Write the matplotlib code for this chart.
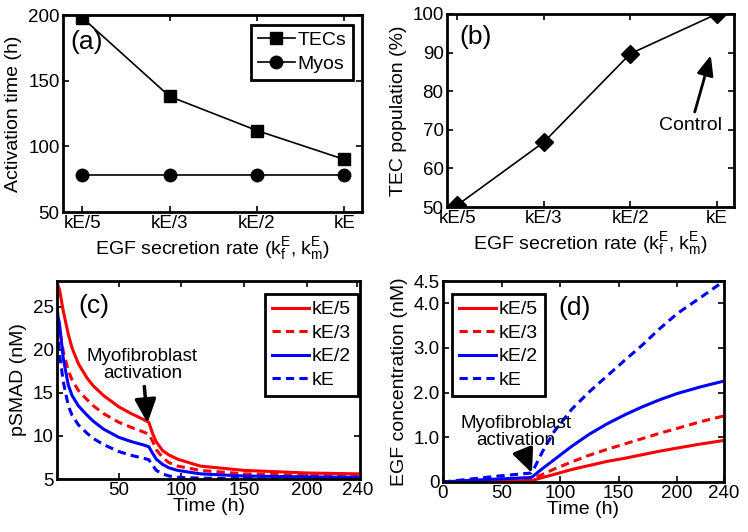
import matplotlib
matplotlib.use("Agg")
import matplotlib.pyplot as plt

plt.rcParams['font.family'] = ['Liberation Sans', 'DejaVu Sans']
plt.rcParams['mathtext.fontset'] = 'custom'
plt.rcParams['mathtext.rm'] = 'Liberation Sans'
plt.rcParams['mathtext.it'] = 'Liberation Sans'
plt.rcParams['font.size'] = 14
plt.rcParams['axes.labelsize'] = 14
plt.rcParams['xtick.labelsize'] = 13.5
plt.rcParams['ytick.labelsize'] = 13.5
plt.rcParams['axes.linewidth'] = 2
plt.rcParams['xtick.direction'] = 'in'
plt.rcParams['ytick.direction'] = 'in'
plt.rcParams['xtick.top'] = True
plt.rcParams['ytick.right'] = True
plt.rcParams['xtick.major.width'] = 1.2
plt.rcParams['ytick.major.width'] = 1.2
plt.rcParams['xtick.major.size'] = 4
plt.rcParams['ytick.major.size'] = 4
plt.rcParams['xtick.major.pad'] = 2.5
plt.rcParams['ytick.major.pad'] = 2.5

# panel (a) / (b): EGF secretion rate cases
rates = ['kE/5', 'kE/3', 'kE/2', 'kE']
tec_time = [198, 138, 112, 90]
myo_time = [78, 78, 78, 78]
tec_pop = [50.5, 66.8, 89.7, 100]

# panel (c): pSMAD over time
t_c = [1, 3, 6, 10, 13, 18, 25, 30, 38, 50, 60, 70, 74, 77, 80, 85, 90, 97, 115, 150, 200, 240]
psmad_k5 = [27.8, 27.0, 24.5, 21.8, 20.2, 18.4, 16.7, 15.8, 14.7, 13.4, 12.6, 11.9, 11.6, 10.3, 9.3, 8.3, 7.8, 7.3, 6.5, 6.0, 5.7, 5.6]
psmad_k3 = [25.0, 22.5, 19.8, 17.6, 16.5, 15.3, 14.2, 13.5, 12.6, 11.6, 11.0, 10.45, 10.2, 9.4, 8.4, 7.5, 6.9, 6.5, 6.0, 5.6, 5.45, 5.4]
psmad_k2 = [24.5, 23.0, 19.0, 15.9, 14.7, 13.5, 12.4, 11.7, 10.8, 9.85, 9.35, 8.95, 8.75, 8.0, 7.3, 6.7, 6.3, 6.0, 5.6, 5.35, 5.25, 5.2]
psmad_k = [22.5, 19.5, 16.3, 13.5, 12.4, 11.3, 10.3, 9.7, 9.0, 8.2, 7.75, 7.4, 7.25, 6.6, 6.0, 5.6, 5.35, 5.2, 5.1, 5.05, 5.0, 5.0]

# panel (d): EGF concentration over time
t_d = [0, 25, 50, 75, 77, 85, 95, 110, 125, 140, 155, 170, 185, 200, 220, 240]
egf_k5 = [0, 0.01, 0.02, 0.03, 0.04, 0.10, 0.17, 0.28, 0.37, 0.46, 0.53, 0.61, 0.69, 0.76, 0.85, 0.93]
egf_k3 = [0, 0.02, 0.04, 0.06, 0.08, 0.17, 0.29, 0.45, 0.60, 0.73, 0.85, 0.97, 1.09, 1.20, 1.35, 1.48]
egf_k2 = [0, 0.04, 0.07, 0.10, 0.13, 0.30, 0.50, 0.80, 1.07, 1.30, 1.50, 1.68, 1.84, 1.98, 2.13, 2.26]
egf_k = [0, 0.07, 0.14, 0.20, 0.26, 0.68, 1.13, 1.63, 2.02, 2.37, 2.72, 3.06, 3.43, 3.77, 4.13, 4.5]

xlab_rate = r'EGF secretion rate ($\mathregular{k_f^E}$, $\mathregular{k_m^E}$)'
dash = (0, (2.7, 1.7))
leg_kw = dict(fancybox=False, edgecolor='k', framealpha=1, handlelength=1.9,
              handletextpad=0.15, labelspacing=0.3, borderpad=0.35, borderaxespad=0,
              fontsize=14)
arrow_kw = dict(arrowstyle='-|>,head_length=0.6,head_width=0.27', lw=2.5, color='k',
                mutation_scale=24, shrinkA=1, shrinkB=0)

fig = plt.figure(figsize=(7.48, 5.32), dpi=100)
ax_a = fig.add_axes([0.0842, 0.6015, 0.3997, 0.3703])
ax_b = fig.add_axes([0.5976, 0.6109, 0.3837, 0.3628])
ax_c = fig.add_axes([0.0762, 0.0996, 0.4051, 0.3722])
ax_d = fig.add_axes([0.5922, 0.094, 0.3757, 0.3778])

# (a)
x = range(1, len(rates) + 1)
ax_a.plot(x, tec_time, 'k-s', lw=1.2, ms=8, label='TECs')
ax_a.plot(x, myo_time, 'k-o', lw=1.2, ms=9, label='Myos')
ax_a.set_xlim(0.78, 4.2)
ax_a.set_ylim(50, 200)
ax_a.set_yticks([50, 100, 150, 200])
ax_a.set_xticks(list(x))
ax_a.set_xticklabels(rates)
ax_a.set_ylabel('Activation time (h)', labelpad=4)
ax_a.set_xlabel(xlab_rate, labelpad=2)
ax_a.text(0.025, 0.863, '(a)', transform=ax_a.transAxes, fontsize=19, va='center')
leg = ax_a.legend(loc='upper right', bbox_to_anchor=(0.97, 0.95), **leg_kw)
leg.get_frame().set_linewidth(2)

# (b)
ax_b.plot(x, tec_pop, 'k-D', lw=1.2, ms=9)
ax_b.set_xlim(0.88, 4.2)
ax_b.set_ylim(50, 100)
ax_b.set_yticks([50, 60, 70, 80, 90, 100])
ax_b.set_xticks(list(x))
ax_b.set_xticklabels(rates)
ax_b.set_ylabel('TEC population (%)', labelpad=4)
ax_b.set_xlabel(xlab_rate, labelpad=2)
ax_b.text(0.042, 0.88, '(b)', transform=ax_b.transAxes, fontsize=19, va='center')
ax_b.annotate('Control', xy=(3.94, 90), xytext=(3.7, 71), ha='center', va='center',
              fontsize=14,
              arrowprops=dict(arrowstyle='-|>,head_length=0.6,head_width=0.25', lw=2,
                              color='k', mutation_scale=20))

# (c)
ax_c.plot(t_c, psmad_k5, color='red', lw=2.2, label='kE/5')
ax_c.plot(t_c, psmad_k3, color='red', lw=2.2, ls=dash, label='kE/3')
ax_c.plot(t_c, psmad_k2, color='blue', lw=2.2, label='kE/2')
ax_c.plot(t_c, psmad_k, color='blue', lw=2.2, ls=dash, label='kE')
ax_c.set_xlim(1, 242)
ax_c.set_ylim(5, 28)
ax_c.set_xticks([50, 100, 150, 200, 240])
ax_c.set_yticks([5, 10, 15, 20, 25])
ax_c.set_xlabel('Time (h)', labelpad=-1)
ax_c.set_ylabel('pSMAD (nM)', labelpad=4)
ax_c.text(0.07, 0.874, '(c)', transform=ax_c.transAxes, fontsize=19, va='center')
ax_c.annotate('Myofibroblast\nactivation', xy=(73, 11.5), xytext=(69, 18.2),
              ha='center', va='center', linespacing=1.0, fontsize=13.5,
              arrowprops=arrow_kw)
leg = ax_c.legend(loc='upper right', bbox_to_anchor=(0.993, 0.934), **leg_kw)
leg.get_frame().set_linewidth(2)

# (d)
ax_d.plot(t_d, egf_k5, color='red', lw=2.2, label='kE/5')
ax_d.plot(t_d, egf_k3, color='red', lw=2.2, ls=dash, label='kE/3')
ax_d.plot(t_d, egf_k2, color='blue', lw=2.2, label='kE/2')
ax_d.plot(t_d, egf_k, color='blue', lw=2.2, ls=dash, label='kE')
ax_d.set_xlim(0, 240)
ax_d.set_ylim(0, 4.5)
ax_d.set_xticks([0, 50, 100, 150, 200, 240])
ax_d.set_yticks([0, 1, 2, 3, 4, 4.5])
ax_d.set_yticklabels(['0', '1.0', '2.0', '3.0', '4.0', '4.5'])
ax_d.set_xlabel('Time (h)', labelpad=-1)
ax_d.set_ylabel('EGF concentration (nM)', labelpad=4)
ax_d.text(0.47, 0.866, '(d)', transform=ax_d.transAxes, fontsize=19, va='center', ha='center')
ax_d.annotate('Myofibroblast\nactivation', xy=(76, 0.2), xytext=(62, 1.12),
              ha='center', va='center', linespacing=1.0, fontsize=13.5,
              arrowprops=arrow_kw)
leg = ax_d.legend(loc='upper left', bbox_to_anchor=(0.032, 0.935), **leg_kw)
leg.get_frame().set_linewidth(2)

fig.savefig('out.png', dpi=100)
